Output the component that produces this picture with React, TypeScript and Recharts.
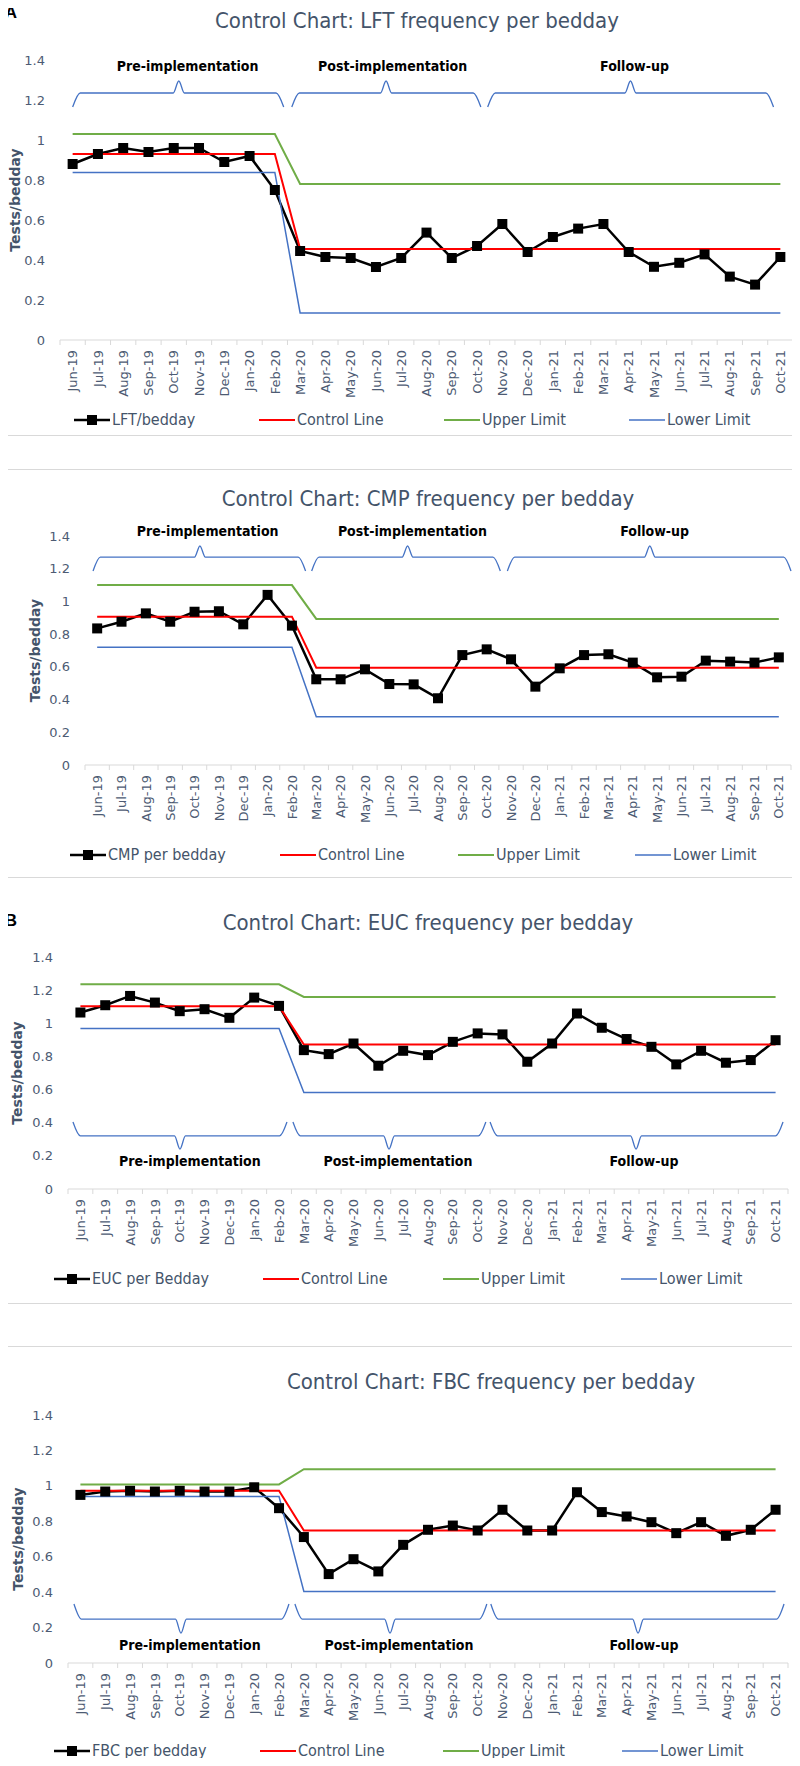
import React from 'react';
import { ComposedChart, Line, XAxis, YAxis, ReferenceDot, Legend } from 'recharts';

// ---------------- DATA ----------------
const months = [
  'Jun-19', 'Jul-19', 'Aug-19', 'Sep-19', 'Oct-19', 'Nov-19', 'Dec-19',
  'Jan-20', 'Feb-20', 'Mar-20', 'Apr-20', 'May-20', 'Jun-20', 'Jul-20', 'Aug-20', 'Sep-20', 'Oct-20', 'Nov-20', 'Dec-20',
  'Jan-21', 'Feb-21', 'Mar-21', 'Apr-21', 'May-21', 'Jun-21', 'Jul-21', 'Aug-21', 'Sep-21', 'Oct-21',
];
const yTicks = [0, 0.2, 0.4, 0.6, 0.8, 1, 1.2, 1.4];
const lastPreIndex = 8; // Feb-20 is the last pre-implementation month
const phaseLabels = ['Pre-implementation', 'Post-implementation', 'Follow-up'];
const limitNames = ['Control Line', 'Upper Limit', 'Lower Limit'];

// LFT
const lftValues = [0.88, 0.93, 0.96, 0.94, 0.96, 0.96, 0.89, 0.92, 0.75, 0.445, 0.415, 0.41, 0.365, 0.41, 0.537, 0.41, 0.47, 0.58, 0.44, 0.515, 0.557, 0.58, 0.44, 0.366, 0.386, 0.428, 0.317, 0.277, 0.415];
const lftControl = [0.93, 0.455];
const lftUpper = [1.03, 0.78];
const lftLower = [0.838, 0.135];

// CMP
const cmpValues = [0.835, 0.876, 0.927, 0.876, 0.937, 0.94, 0.86, 1.04, 0.852, 0.524, 0.524, 0.585, 0.495, 0.493, 0.408, 0.672, 0.707, 0.646, 0.479, 0.591, 0.672, 0.677, 0.626, 0.536, 0.54, 0.638, 0.632, 0.626, 0.658];
const cmpControl = [0.907, 0.595];
const cmpUpper = [1.1, 0.893];
const cmpLower = [0.72, 0.295];

// EUC
const eucValues = [1.065, 1.109, 1.165, 1.125, 1.073, 1.085, 1.033, 1.155, 1.105, 0.838, 0.814, 0.878, 0.744, 0.834, 0.808, 0.888, 0.939, 0.933, 0.768, 0.878, 1.059, 0.973, 0.905, 0.858, 0.752, 0.834, 0.762, 0.778, 0.898];
const eucControl = [1.103, 0.872];
const eucUpper = [1.235, 1.159];
const eucLower = [0.969, 0.582];

// FBC
const fbcValues = [0.949, 0.968, 0.972, 0.968, 0.972, 0.968, 0.968, 0.992, 0.874, 0.711, 0.502, 0.586, 0.517, 0.667, 0.752, 0.776, 0.748, 0.865, 0.748, 0.748, 0.964, 0.852, 0.827, 0.795, 0.733, 0.795, 0.718, 0.752, 0.865];
const fbcControl = [0.972, 0.748];
const fbcUpper = [1.008, 1.094];
const fbcLower = [0.94, 0.404];

// Phase bracket annotations (in category-index / value units)
const lftBracketFrom = [0, 8.67, 16.42];
const lftBracketTo = [8.35, 16.15, 27.73];
const lftBracketTip = [4.2, 12.4, 22.07];
const lftBracketLevels = [1.165, 1.235, 1.295]; // end, line, tip
const lftPhaseLabelX = [4.55, 12.66, 22.23];
const lftPhaseLabelY = 1.37;

const cmpBracketFrom = [-0.17, 8.81, 16.85];
const cmpBracketTo = [8.56, 16.56, 28.5];
const cmpBracketTip = [4.22, 12.75, 22.7];
const cmpBracketLevels = [1.186, 1.271, 1.339];
const cmpPhaseLabelX = [4.54, 12.95, 22.9];
const cmpPhaseLabelY = 1.43;

const eucBracketFrom = [-0.3, 8.56, 16.5];
const eucBracketTo = [8.32, 16.33, 28.3];
const eucBracketTip = [4.01, 12.43, 22.38];
const eucBracketLevels = [0.404, 0.32, 0.241];
const eucPhaseLabelX = [4.41, 12.79, 22.7];
const eucPhaseLabelY = 0.169;

const fbcBracketFrom = [-0.26, 8.64, 16.53];
const fbcBracketTo = [8.4, 16.37, 28.34];
const fbcBracketTip = [4.05, 12.47, 22.46];
const fbcBracketLevels = [0.333, 0.248, 0.169];
const fbcPhaseLabelX = [4.41, 12.83, 22.7];
const fbcPhaseLabelY = 0.1;

// ---------------- STYLE ----------------
const NARROW = "'DejaVu Sans Condensed', 'Open Sans', sans-serif";
const AXIS_FONT = "'DejaVu Sans', Verdana, sans-serif";
const TEXT_BLUE = '#44546A';
const TICK_COLOR = '#4D5B73';
const GRID_GRAY = '#D9D9D9';
const SERIES_ORDER = ['value', 'cl', 'ucl', 'lcl'];
const SERIES_STYLE: Record<string, { color: string; width: number }> = {
  value: { color: '#000000', width: 2.5 },
  cl: { color: '#FF0000', width: 2 },
  ucl: { color: '#70AD47', width: 2 },
  lcl: { color: '#4472C4', width: 1.5 },
};

const xTicks: number[] = [];
months.forEach((_, i) => { xTicks.push(i - 0.5); xTicks.push(i); });
xTicks.push(months.length - 0.5);

function buildRows(values: number[], control: number[], upper: number[], lower: number[]) {
  return months.map((m, i) => {
    const p = i <= lastPreIndex ? 0 : 1;
    return { x: i, month: m, value: values[i], cl: control[p], ucl: upper[p], lcl: lower[p] };
  });
}

function bracketPoints(from: number, to: number, tip: number, levels: number[]) {
  const [yEnd, yLine, yTip] = levels;
  const d = 0.3;
  const t = 0.22;
  return [
    { x: from, b: yEnd },
    { x: from + d, b: yLine },
    { x: tip - t, b: yLine },
    { x: tip, b: yTip },
    { x: tip + t, b: yLine },
    { x: to - d, b: yLine },
    { x: to, b: yEnd },
  ];
}

const MonthTick = (props: any) => {
  const { x, y, payload } = props;
  const v = payload.value;
  if (!Number.isInteger(v)) {
    return <line x1={x} x2={x} y1={y} y2={y + 5} stroke={GRID_GRAY} strokeWidth={1} />;
  }
  const ty = y + 10;
  return (
    <text
      x={x}
      y={ty}
      transform={`rotate(-90 ${x} ${ty})`}
      textAnchor="end"
      dy="0.36em"
      fontSize={13}
      fontFamily={AXIS_FONT}
      fill={TICK_COLOR}
    >
      {months[v]}
    </text>
  );
};

const SquareDot = (p: any) => {
  const { cx, cy, index } = p;
  if (cx == null || cy == null) return <g key={`d${index}`} />;
  return <rect key={`d${index}`} x={cx - 5} y={cy - 5} width={10} height={10} fill="#000" />;
};

type Spec = {
  letter?: string;
  title: string;
  seriesName: string;
  rows: any[];
  bracketFrom: number[];
  bracketTo: number[];
  bracketTip: number[];
  bracketLevels: number[];
  phaseLabelX: number[];
  phaseLabelY: number;
  panelTop: number;
  height: number;
  plotTop: number;
  plotBottom: number;
  plotLeft: number;
  plotRight: number;
  tickRight: number;
  yTitleX: number;
  titleX: number;
  titleY: number;
  letterY?: number;
  legendY: number;
  legendXs: number[];
};

const LegendContent = ({ payload, xs }: { payload?: any[]; xs: number[] }) => {
  const items = (payload || [])
    .filter((e) => SERIES_STYLE[e.dataKey as string])
    .sort((a, b) => SERIES_ORDER.indexOf(a.dataKey) - SERIES_ORDER.indexOf(b.dataKey));
  return (
    <div style={{ position: 'relative', width: 800, height: 20 }}>
      {items.map((it, i) => {
        const st = SERIES_STYLE[it.dataKey as string];
        return (
          <div
            key={i}
            style={{ position: 'absolute', left: xs[i], top: 0, height: 20, display: 'flex', alignItems: 'center' }}
          >
            <svg width={36} height={12} style={{ display: 'block' }}>
              <line x1={0} x2={36} y1={6} y2={6} stroke={st.color} strokeWidth={st.width} />
              {it.dataKey === 'value' && <rect x={13} y={1} width={10} height={10} fill="#000" />}
            </svg>
            <span style={{ marginLeft: 2, fontFamily: NARROW, fontSize: 16, color: TEXT_BLUE, whiteSpace: 'nowrap', lineHeight: '20px' }}>
              {it.value}
            </span>
          </div>
        );
      })}
    </div>
  );
};

const XAXIS_H = 60;

function ControlChart({ spec }: { spec: Spec }) {
  const s = spec;
  const marginTop = s.plotTop - s.panelTop;
  const marginBottom = s.height - (s.plotBottom - s.panelTop) - XAXIS_H;
  const marginRight = 800 - s.plotRight;
  const brackets = s.bracketFrom.map((f, i) => bracketPoints(f, s.bracketTo[i], s.bracketTip[i], s.bracketLevels));
  return (
    <div style={{ position: 'absolute', left: 0, top: s.panelTop, width: 800, height: s.height }}>
      <div
        style={{
          position: 'absolute', left: s.titleX - 300, width: 600, top: s.titleY - s.panelTop - 13,
          height: 26, lineHeight: '26px', textAlign: 'center', fontFamily: NARROW, fontSize: 22, color: TEXT_BLUE,
          whiteSpace: 'nowrap',
        }}
      >
        {s.title}
      </div>
      <ComposedChart
        width={800}
        height={s.height}
        data={s.rows}
        margin={{ top: marginTop, right: marginRight, bottom: marginBottom, left: 0 }}
        style={{ position: 'absolute', left: 0, top: 0 }}
      >
        <XAxis
          type="number"
          dataKey="x"
          domain={[-0.5, months.length - 0.5]}
          ticks={xTicks}
          interval={0}
          allowDecimals
          tick={(p: any) => <MonthTick {...p} />}
          tickLine={false}
          tickSize={0}
          tickMargin={0}
          axisLine={{ stroke: GRID_GRAY, strokeWidth: 1 }}
          height={XAXIS_H}
        />
        <YAxis
          type="number"
          domain={[0, 1.4]}
          ticks={yTicks}
          interval={0}
          width={s.plotLeft}
          axisLine={false}
          tickLine={false}
          tickSize={0}
          tickMargin={s.plotLeft - s.tickRight}
          tickFormatter={(v: number) => String(v)}
          tick={{ fill: TICK_COLOR, fontSize: 13, fontFamily: AXIS_FONT }}
          label={{
            content: (p: any) => {
              const vb = p.viewBox || { x: 0, y: 0, width: 0, height: 0 };
              const cx = vb.x + s.yTitleX;
              const cy = vb.y + vb.height / 2;
              return (
                <text
                  x={cx}
                  y={cy}
                  transform={`rotate(-90 ${cx} ${cy})`}
                  textAnchor="middle"
                  dy="0.36em"
                  fontFamily={AXIS_FONT}
                  fontWeight="bold"
                  fontSize={14}
                  fill={TEXT_BLUE}
                >
                  Tests/bedday
                </text>
              );
            },
          }}
        />
        <Line dataKey="value" name={s.seriesName} stroke="#000" strokeWidth={2.5} dot={SquareDot} isAnimationActive={false} />
        <Line dataKey="cl" name={limitNames[0]} stroke="#FF0000" strokeWidth={2} dot={false} isAnimationActive={false} />
        <Line dataKey="ucl" name={limitNames[1]} stroke="#70AD47" strokeWidth={2} dot={false} isAnimationActive={false} />
        <Line dataKey="lcl" name={limitNames[2]} stroke="#4472C4" strokeWidth={1.5} dot={false} isAnimationActive={false} />
        {brackets.map((pts, i) => (
          <Line
            key={`br${i}`}
            data={pts}
            dataKey="b"
            name={`bracket${i}`}
            type="monotoneX"
            stroke="#4472C4"
            strokeWidth={1.3}
            dot={false}
            legendType="none"
            isAnimationActive={false}
          />
        ))}
        {phaseLabels.map((lab, i) => (
          <ReferenceDot
            key={`pl${i}`}
            x={s.phaseLabelX[i]}
            y={s.phaseLabelY}
            r={0}
            fill="none"
            stroke="none"
            ifOverflow="visible"
            label={{ value: lab, position: 'center', fill: '#000', fontSize: 14, fontWeight: 'bold', fontFamily: NARROW }}
          />
        ))}
        <Legend
          verticalAlign="middle"
          align="center"
          layout="horizontal"
          wrapperStyle={{ top: s.legendY - s.panelTop - 10, left: 0, width: 800, height: 20 }}
          content={(p: any) => <LegendContent payload={p.payload} xs={s.legendXs} />}
        />
      </ComposedChart>
      {s.letter && (
        <svg width={30} height={30} style={{ position: 'absolute', left: 0, top: (s.letterY || 0) - s.panelTop - 15, zIndex: 5 }}>
          <text x={11} y={15} dy="0.36em" textAnchor="middle" fontFamily="'Liberation Sans', Arial, sans-serif" fontWeight="bold" fontSize={17} fill="#000">
            {s.letter}
          </text>
        </svg>
      )}
    </div>
  );
}

const specs: Spec[] = [
  {
    letter: 'A', letterY: 12,
    title: 'Control Chart: LFT frequency per bedday', seriesName: 'LFT/bedday',
    rows: buildRows(lftValues, lftControl, lftUpper, lftLower),
    bracketFrom: lftBracketFrom, bracketTo: lftBracketTo, bracketTip: lftBracketTip, bracketLevels: lftBracketLevels,
    phaseLabelX: lftPhaseLabelX, phaseLabelY: lftPhaseLabelY,
    panelTop: 0, height: 435, plotTop: 60, plotBottom: 340, plotLeft: 60, plotRight: 793, tickRight: 45, yTitleX: 15,
    titleX: 417, titleY: 21, legendY: 420, legendXs: [74, 259, 444, 629],
  },
  {
    title: 'Control Chart: CMP frequency per bedday', seriesName: 'CMP per bedday',
    rows: buildRows(cmpValues, cmpControl, cmpUpper, cmpLower),
    bracketFrom: cmpBracketFrom, bracketTo: cmpBracketTo, bracketTip: cmpBracketTip, bracketLevels: cmpBracketLevels,
    phaseLabelX: cmpPhaseLabelX, phaseLabelY: cmpPhaseLabelY,
    panelTop: 469, height: 408, plotTop: 536, plotBottom: 765, plotLeft: 85, plotRight: 791, tickRight: 70, yTitleX: 35,
    titleX: 428, titleY: 499, legendY: 855, legendXs: [70, 280, 458, 635],
  },
  {
    letter: 'B', letterY: 920,
    title: 'Control Chart: EUC frequency per bedday', seriesName: 'EUC per Bedday',
    rows: buildRows(eucValues, eucControl, eucUpper, eucLower),
    bracketFrom: eucBracketFrom, bracketTo: eucBracketTo, bracketTip: eucBracketTip, bracketLevels: eucBracketLevels,
    phaseLabelX: eucPhaseLabelX, phaseLabelY: eucPhaseLabelY,
    panelTop: 880, height: 423, plotTop: 957, plotBottom: 1189, plotLeft: 68, plotRight: 788, tickRight: 53, yTitleX: 17,
    titleX: 428, titleY: 923, legendY: 1279, legendXs: [54, 263, 443, 621],
  },
  {
    title: 'Control Chart: FBC frequency per bedday', seriesName: 'FBC per bedday',
    rows: buildRows(fbcValues, fbcControl, fbcUpper, fbcLower),
    bracketFrom: fbcBracketFrom, bracketTo: fbcBracketTo, bracketTip: fbcBracketTip, bracketLevels: fbcBracketLevels,
    phaseLabelX: fbcPhaseLabelX, phaseLabelY: fbcPhaseLabelY,
    panelTop: 1346, height: 420, plotTop: 1415, plotBottom: 1663, plotLeft: 68, plotRight: 788, tickRight: 53, yTitleX: 18,
    titleX: 491, titleY: 1382, legendY: 1751, legendXs: [54, 260, 443, 622],
  },
];

export default function App() {
  return (
    <div style={{ position: 'relative', width: 800, height: 1766, margin: -8, background: '#fff', overflow: 'hidden' }}>
      {/* panel frames */}
      <div style={{ position: 'absolute', left: 2, top: 0, width: 800, height: 435, borderLeft: `1px solid ${GRID_GRAY}`, borderBottom: `1px solid ${GRID_GRAY}` }} />
      <div style={{ position: 'absolute', left: 2, top: 469, width: 800, height: 407, border: `1px solid ${GRID_GRAY}` }} />
      <div style={{ position: 'absolute', left: 0, top: 1303, width: 800, height: 0, borderTop: `1px solid ${GRID_GRAY}` }} />
      <div style={{ position: 'absolute', left: 0, top: 1346, width: 800, height: 0, borderTop: `1px solid ${GRID_GRAY}` }} />
      {specs.map((s, i) => (
        <ControlChart key={i} spec={s} />
      ))}
    </div>
  );
}
